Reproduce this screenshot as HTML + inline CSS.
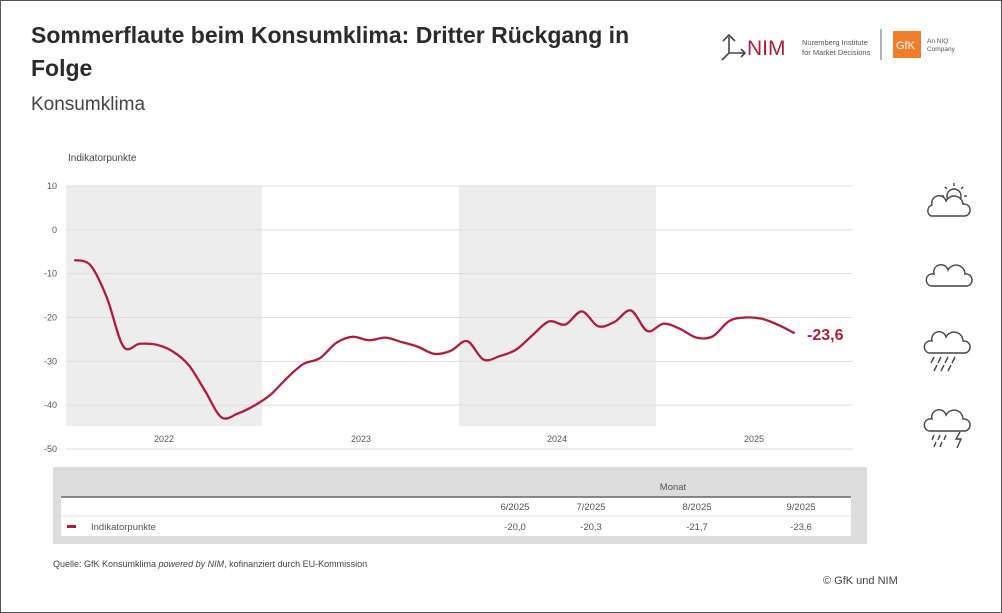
<!DOCTYPE html>
<html><head><meta charset="utf-8">
<style>
body{margin:0;background:#fff;}
#w{position:relative;width:1000px;height:611px;border:1px solid #555;background:#fff;font-family:"Liberation Sans",sans-serif;overflow:hidden}
.t{position:absolute;color:#333}
</style></head><body><div id="w">
<div class="t" style="left:30px;top:18px;font-size:23px;font-weight:bold;line-height:33px;width:630px;color:#2b2b2b">Sommerflaute beim Konsumklima: Dritter Rückgang in Folge</div>
<div class="t" style="left:30px;top:93px;font-size:19px;color:#444">Konsumklima</div>
<svg width="1000" height="611" style="position:absolute;left:0;top:0" font-family="Liberation Sans, sans-serif">
<g stroke="#444" stroke-width="1.6" fill="none"><path d="M728 36v16M722 40l6-6 6 6M728 52l-7 7M728 52h16M740 48l4 4-4 4"/></g>
<text x="746" y="54" font-size="21" fill="#b01c3a">NIM</text>
<text x="801" y="44" font-size="7.5" fill="#555">Nuremberg Institute</text>
<text x="801" y="54" font-size="7.5" fill="#555">for Market Decisions</text>
<line x1="880" y1="28" x2="880" y2="59" stroke="#666"/>
<rect x="892" y="30" width="28" height="27" fill="#f07d2c"/>
<text x="895" y="48" font-size="11" fill="#fff">GfK</text>
<text x="926" y="42" font-size="6.5" fill="#555">An NIQ</text>
<text x="926" y="50" font-size="6.5" fill="#555">Company</text>
<text x="67" y="160" font-size="10" fill="#444">Indikatorpunkte</text>
<rect x="65" y="185" width="196" height="240" fill="#ededed"/>
<rect x="458" y="185" width="197" height="240" fill="#ededed"/>
<g stroke="#ddd" stroke-width="1" id="grid"></g>
<g font-size="9" fill="#555" text-anchor="end" id="yl"></g>
<g font-size="9" fill="#555" text-anchor="middle">
<text x="163" y="441">2022</text><text x="360" y="441">2023</text><text x="556" y="441">2024</text><text x="753" y="441">2025</text></g>
<path id="ln" fill="none" stroke="#b01c3a" stroke-width="2.3"/>
<text x="806" y="339" font-size="16" font-weight="bold" fill="#b01c3a">-23,6</text>
<g fill="none" stroke="#444" stroke-width="1.4">
<circle cx="953" cy="195" r="7"/>
<g id="rays"></g>
<path d="M930 215h34a6 6 0 0 0-2-12a9 9 0 0 0-17-3a7 7 0 0 0-14 4a6 6 0 0 0-1 11z" fill="#fff"/>
<path d="M930 285h36a6 6 0 0 0-2-12a9 9 0 0 0-17-4a7 7 0 0 0-14 4a6 6 0 0 0-3 12z"/>
<path d="M928 352h36a6 6 0 0 0-2-12a9 9 0 0 0-17-4a7 7 0 0 0-14 4a6 6 0 0 0-3 12z"/>
<path d="M933 356l-3 6M940 356l-3 6M947 356l-3 6M954 356l-3 6M936 364l-3 6M943 364l-3 6M950 364l-3 6"/>
<path d="M928 430h36a6 6 0 0 0-2-12a9 9 0 0 0-17-4a7 7 0 0 0-14 4a6 6 0 0 0-3 12z"/>
<path d="M933 434l-2 5M939 434l-2 5M945 434l-2 5M935 441l-2 5M941 441l-2 5M959 431l-4 7h5l-4 9"/>
</g>
<rect x="52" y="466" width="814" height="77" fill="#dcdcdc"/>
<rect x="60" y="496" width="790" height="39" fill="#fff"/>
<line x1="60" y1="496" x2="850" y2="496" stroke="#666" stroke-width="1.5"/>
<line x1="60" y1="515" x2="850" y2="515" stroke="#e6e6e6"/>
<g font-size="9.5" fill="#555" text-anchor="middle">
<text x="672" y="489">Monat</text>
<text x="514" y="509">6/2025</text><text x="590" y="509">7/2025</text><text x="696" y="509">8/2025</text><text x="800" y="509">9/2025</text>
<text x="514" y="529">-20,0</text><text x="590" y="529">-20,3</text><text x="696" y="529">-21,7</text><text x="800" y="529">-23,6</text>
</g>
<rect x="66" y="524" width="9" height="3" fill="#b01c3a"/>
<text x="90" y="529" font-size="9.5" fill="#555">Indikatorpunkte</text>
<text x="52" y="566" font-size="9" fill="#444">Quelle: GfK Konsumklima <tspan font-style="italic">powered by NIM</tspan>, kofinanziert durch EU-Kommission</text>
<text x="822" y="583" font-size="11" fill="#444">© GfK und NIM</text>
</svg>
<script>
var Y=function(v){return 185+(10-v)*4.383;};
var g=document.getElementById('grid'),yl=document.getElementById('yl'),ns='http://www.w3.org/2000/svg';
for(var v=10;v>=-50;v-=10){var l=document.createElementNS(ns,'line');l.setAttribute('x1',65);l.setAttribute('x2',852);l.setAttribute('y1',Y(v));l.setAttribute('y2',Y(v));g.appendChild(l);
var t=document.createElementNS(ns,'text');t.setAttribute('x',56);t.setAttribute('y',Y(v)+3);t.textContent=v;yl.appendChild(t);}
var d=[-6.9,-8.1,-15.5,-26.6,-26.0,-26.2,-27.7,-30.9,-36.8,-42.8,-41.9,-40.1,-37.6,-33.8,-30.6,-29.3,-25.8,-24.4,-25.2,-24.6,-25.6,-26.7,-28.3,-27.6,-25.4,-29.6,-28.8,-27.3,-24.0,-20.9,-21.6,-18.6,-22.0,-21.0,-18.4,-23.1,-21.4,-22.6,-24.6,-24.3,-20.8,-20.0,-20.3,-21.7,-23.6];
var p=d.map(function(v,i){return [65+(i+0.5)*16.375,Y(v)];});
var s='M'+p[0][0]+' '+p[0][1];
for(var i=0;i<p.length-1;i++){var a=p[i-1]||p[i],b=p[i],c=p[i+1],e=p[i+2]||c;
s+=' C'+(b[0]+(c[0]-a[0])/6)+' '+(b[1]+(c[1]-a[1])/6)+' '+(c[0]-(e[0]-b[0])/6)+' '+(c[1]-(e[1]-b[1])/6)+' '+c[0]+' '+c[1];}
document.getElementById('ln').setAttribute('d',s);
var r=document.getElementById('rays');
for(var k=0;k<8;k++){var an=k*Math.PI/4,l=document.createElementNS(ns,'line');l.setAttribute('x1',953+10*Math.cos(an));l.setAttribute('y1',195+10*Math.sin(an));l.setAttribute('x2',953+13*Math.cos(an));l.setAttribute('y2',195+13*Math.sin(an));r.appendChild(l);}
</script>
</div></body></html>
